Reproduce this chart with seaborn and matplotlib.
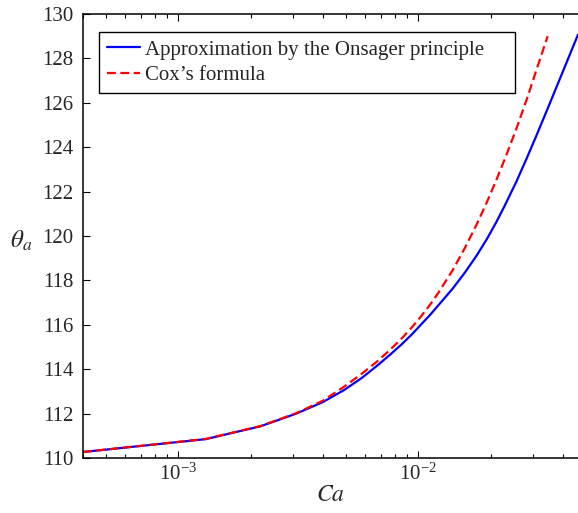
import numpy as np
import pandas as pd
import matplotlib
matplotlib.use("Agg")
import matplotlib.pyplot as plt
import seaborn as sns
from matplotlib.ticker import LogLocator, NullFormatter, MultipleLocator

# Capillary number samples and advancing contact angles (degrees)
ca_onsager = [0.0004, 0.0013, 0.0022, 0.0031, 0.0040, 0.0049, 0.0058, 0.0067,
              0.0076, 0.0085, 0.0094, 0.0103, 0.0112, 0.0121, 0.0139, 0.0157,
              0.0175, 0.0193, 0.0211, 0.0229, 0.0256, 0.0283, 0.0310, 0.0346,
              0.0382, 0.0418, 0.0463]
theta_onsager = [110.27, 110.85, 111.43, 112.00, 112.52, 113.06, 113.60, 114.14,
                 114.64, 115.11, 115.57, 116.03, 116.45, 116.87, 117.63, 118.38,
                 119.12, 119.86, 120.61, 121.36, 122.44, 123.50, 124.50, 125.74,
                 126.87, 127.90, 129.07]

ca_cox = [0.0004, 0.0013, 0.0022, 0.0031, 0.0040, 0.0049, 0.0058, 0.0067,
          0.0076, 0.0085, 0.0094, 0.0103, 0.0112, 0.0121, 0.0139, 0.0157,
          0.0175, 0.0193, 0.0211, 0.0229, 0.0256, 0.0283, 0.0310, 0.0346]
theta_cox = [110.27, 110.86, 111.44, 112.02, 112.58, 113.21, 113.79, 114.33,
             114.86, 115.37, 115.89, 116.40, 116.91, 117.43, 118.46, 119.50,
             120.52, 121.52, 122.50, 123.45, 124.82, 126.15, 127.45, 129.00]

label_onsager = "Approximation by the Onsager principle"
label_cox = "Cox\u2019s formula"

sns.set_style("ticks")
plt.rcParams["font.family"] = ["Liberation Serif", "DejaVu Serif"]
plt.rcParams["mathtext.fontset"] = "stix"

df = pd.concat([
    pd.DataFrame({"Ca": ca_onsager, "theta": theta_onsager, "model": label_onsager}),
    pd.DataFrame({"Ca": ca_cox, "theta": theta_cox, "model": label_cox}),
])

fig = plt.figure(figsize=(5.78, 5.13), dpi=100)
ax = fig.add_axes([83 / 578, 1 - 458 / 513, 1 - 83 / 578, (458 - 14) / 513])

sns.lineplot(data=df, x="Ca", y="theta", hue="model", style="model",
             palette={label_onsager: "#0000ff", label_cox: "#ff0000"},
             dashes={label_onsager: "", label_cox: (4, 2)},
             linewidth=1.6, sort=False, ax=ax)

ax.set_xscale("log")
ax.set_xlim(0.0004, 0.0463)
ax.set_ylim(110, 130)
ax.yaxis.set_major_locator(MultipleLocator(2))
ax.xaxis.set_major_locator(LogLocator(base=10))
ax.xaxis.set_minor_locator(LogLocator(base=10, subs=np.arange(2, 10)))
ax.xaxis.set_minor_formatter(NullFormatter())

for side in ["left", "top", "bottom"]:
    ax.spines[side].set_linewidth(1.1)
    ax.spines[side].set_color("black")
ax.spines["right"].set_visible(False)

ax.tick_params(axis="both", which="both", direction="in", top=True,
               right=False, color="black", width=0.8)
ax.tick_params(axis="both", which="major", length=5, labelsize=15)
ax.tick_params(axis="both", which="minor", length=3)
ax.tick_params(axis="y", pad=7)
ax.tick_params(axis="x", pad=4)

ax.set_xlabel("$Ca$", fontsize=17, labelpad=0)
ax.set_ylabel(r"$\theta_a$", fontsize=18, rotation=0, va="center")
ax.yaxis.set_label_coords(-0.125, 0.49)

leg = ax.legend(loc="upper left",
                bbox_to_anchor=(16 / 495, 0, (515 - 99) / 495, 1 - 18 / 444),
                mode="expand", borderaxespad=0, fontsize=15, frameon=True,
                fancybox=False, framealpha=1, edgecolor="black",
                handlelength=1.6, handletextpad=0.25, borderpad=0.38,
                labelspacing=0.3)
leg.get_frame().set_linewidth(1.0)

fig.savefig("out.png", dpi=100)
